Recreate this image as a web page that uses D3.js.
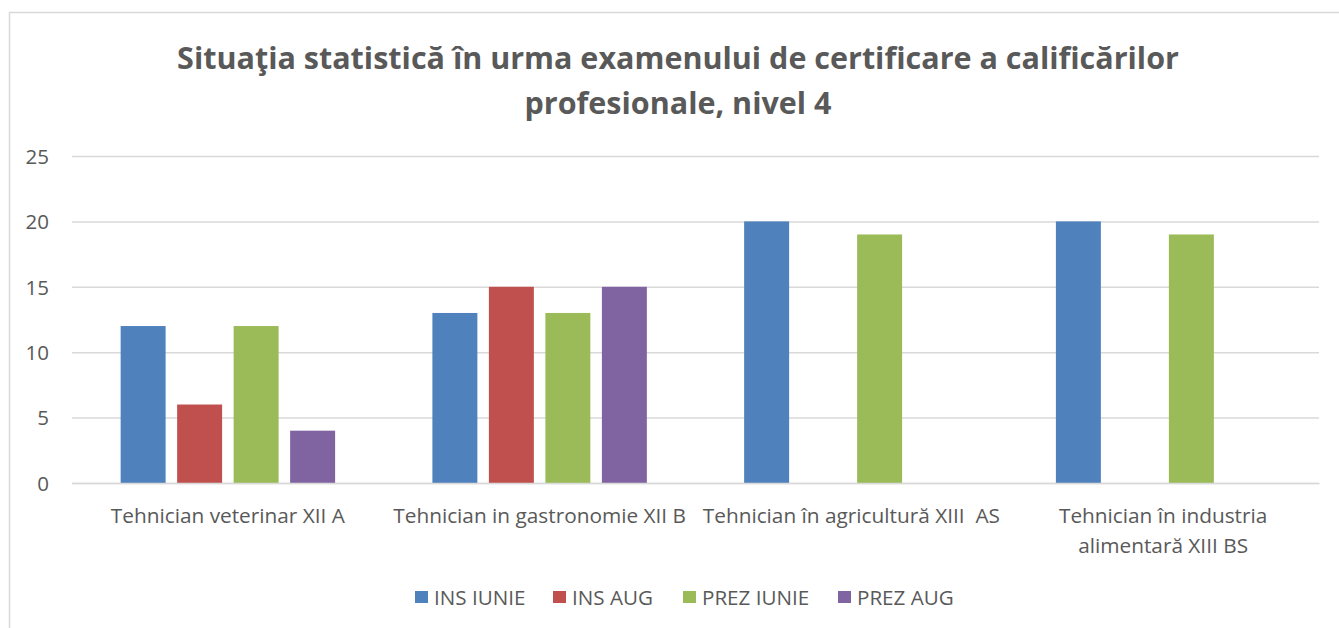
<!DOCTYPE html>
<html>
<head>
<meta charset="utf-8">
<script src="https://cdn.jsdelivr.net/npm/d3@7"></script>
<style>
  html, body { margin: 0; padding: 0; background: #fff; }
  svg { display: block; }
  text { font-family: "Open Sans", "Liberation Sans", sans-serif; fill: #595959; white-space: pre; }
</style>
</head>
<body>
<svg id="chart" width="1339" height="628"></svg>
<script>
const titleLines = ["Situaţia statistică în urma examenului de certificare a calificărilor", "profesionale, nivel 4"];
const categories = ["Tehnician veterinar XII A", "Tehnician in gastronomie XII B", "Tehnician în agricultură XIII  AS", "Tehnician în industria alimentară XIII BS"];
const categoryLines = [["Tehnician veterinar XII A"], ["Tehnician in gastronomie XII B"], ["Tehnician în agricultură XIII  AS"], ["Tehnician în industria", "alimentară XIII BS"]];
const seriesNames = ["INS IUNIE", "INS AUG", "PREZ IUNIE", "PREZ AUG"];
const seriesColors = ["#4F81BD", "#C0504D", "#9BBB59", "#8064A2"];
const insIunie = [12, 13, 20, 20];
const insAug = [6, 15, 0, 0];
const prezIunie = [12, 13, 19, 19];
const prezAug = [4, 15, 0, 0];
const yTicks = [0, 5, 10, 15, 20, 25];

const seriesValues = [insIunie, insAug, prezIunie, prezAug];
const svg = d3.select("#chart");
const font = "'Open Sans', 'Liberation Sans', sans-serif";

// outer border
svg.append("rect").attr("x", 9.5).attr("y", 12.5).attr("width", 1345).attr("height", 640)
  .attr("fill", "#fff").attr("stroke", "#d9d9d9").attr("stroke-width", 1.5);

const pLeft = 72, pRight = 1319, pTop = 156, pBottom = 483;
const x0 = d3.scaleBand().domain(categories).range([pLeft, pRight]).paddingInner(0).paddingOuter(0);
const x1 = d3.scaleBand().domain(seriesNames).range([0, x0.bandwidth()]).paddingInner(0.204).paddingOuter(0.861);
const y = d3.scaleLinear().domain([0, 25]).range([pBottom, pTop]);

// gridlines + y labels
const yAxis = d3.axisLeft(y).tickValues(yTicks).tickSize(-(pRight - pLeft)).tickPadding(0);
const gy = svg.append("g").attr("transform", `translate(${pLeft},0)`).call(yAxis);
gy.select(".domain").remove();
gy.selectAll(".tick line").attr("stroke", "#d9d9d9").attr("stroke-width", 1.5);
gy.selectAll(".tick text").attr("x", -23).attr("dy", "0.36em").attr("text-anchor", "end")
  .style("font-size", "20.5px").style("font-family", font).attr("fill", "#595959");

// bars
const groups = svg.append("g").selectAll("g").data(categories).join("g")
  .attr("transform", d => `translate(${x0(d)},0)`);
groups.selectAll("rect")
  .data((c, i) => seriesNames.map((s, j) => ({ s, v: seriesValues[j][i], c: seriesColors[j] })).filter(d => d.v > 0))
  .join("rect")
  .attr("x", d => x1(d.s))
  .attr("y", d => y(d.v))
  .attr("width", x1.bandwidth())
  .attr("height", d => y(0) - y(d.v))
  .attr("fill", d => d.c);

// x axis baseline
const xAxis = d3.axisBottom(x0).tickSize(0).tickFormat("");
const gx = svg.append("g").attr("transform", `translate(0,${pBottom})`).call(xAxis);
gx.select(".domain").attr("stroke", "#d9d9d9").attr("stroke-width", 1.5);

// category labels
categories.forEach((c, i) => {
  const cx = x0(c) + x0.bandwidth() / 2;
  const t = svg.append("text").attr("x", cx).attr("y", 523)
    .attr("text-anchor", "middle").style("font-size", "20.8px").style("font-family", font);
  categoryLines[i].forEach((ln, k) => {
    t.append("tspan").attr("x", cx).attr("dy", k === 0 ? 0 : 30).text(ln);
  });
});

// title
const title = svg.append("text").attr("text-anchor", "middle")
  .style("font-size", "30.5px").style("font-weight", "bold").style("font-family", font);
title.selectAll("tspan").data(titleLines).join("tspan")
  .attr("x", 678).attr("y", (d, i) => 69 + i * 45).text(d => d);

// legend
const legendX = [415, 553, 683, 838];
const lg = svg.append("g").selectAll("g").data(seriesNames).join("g")
  .attr("transform", (d, i) => `translate(${legendX[i]},591)`);
lg.append("rect").attr("width", 13).attr("height", 12).attr("fill", (d, i) => seriesColors[i]);
lg.append("text").attr("x", 19).attr("y", 13.5).text(d => d)
  .style("font-size", "20.6px").style("font-family", font);
</script>
</body>
</html>
